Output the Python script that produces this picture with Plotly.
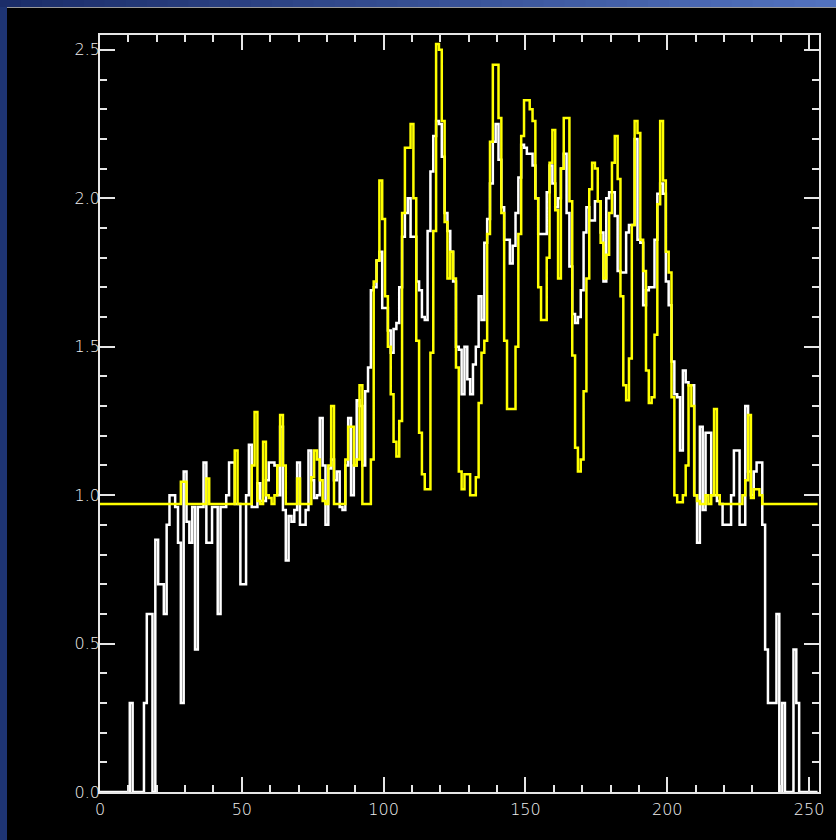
import plotly.graph_objects as go

# Bin index (0..253) for both profiles
bins = list(range(254))

# Measured profile (white histogram)
measured = [
    0, 0, 0, 0, 0, 0, 0, 0, 0, 0,                              # 0-9
    0, 0.30, 0, 0, 0, 0, 0.30, 0.60, 0.60, 0.0,                # 10-19
    0.85, 0.70, 0.70, 0.60, 0.90, 1.00, 1.00, 0.96, 0.84, 0.30,  # 20-29
    1.08, 0.91, 0.84, 0.96, 0.48, 0.96, 0.96, 1.11, 0.84, 0.84,  # 30-39
    0.96, 0.96, 0.60, 0.96, 0.96, 1.00, 1.11, 1.11, 0.97, 0.97,  # 40-49
    0.70, 0.70, 1.00, 1.17, 0.96, 0.96, 1.04, 0.98, 0.98, 1.05,  # 50-59
    1.11, 1.11, 1.10, 1.00, 1.23, 0.95, 0.78, 0.93, 0.91, 0.95,  # 60-69
    1.11, 0.90, 0.90, 0.95, 1.15, 1.05, 0.99, 1.00, 1.26, 1.10,  # 70-79
    0.90, 1.09, 1.12, 1.05, 1.08, 0.96, 0.95, 1.10, 1.26, 1.00,  # 80-89
    1.10, 1.32, 1.30, 1.10, 1.35, 1.43, 1.69, 1.70, 1.79, 1.82,  # 90-99
    1.63, 1.63, 1.555, 1.48, 1.56, 1.58, 1.70, 1.87, 1.95, 2.00,  # 100-109
    1.87, 1.87, 1.72, 1.69, 1.60, 1.59, 1.89, 2.09, 2.21, 2.26,  # 110-119
    2.25, 2.14, 1.95, 1.89, 1.82, 1.72, 1.50, 1.49, 1.34, 1.50,  # 120-129
    1.39, 1.34, 1.44, 1.50, 1.67, 1.59, 1.85, 1.93, 2.05, 2.19,  # 130-139
    2.25, 2.13, 1.97, 1.86, 1.86, 1.78, 1.84, 1.95, 2.07, 2.18,  # 140-149
    2.17, 2.15, 2.15, 2.11, 2.00, 1.88, 1.88, 1.88, 2.02, 2.11,  # 150-159
    2.05, 1.97, 2.00, 2.10, 2.15, 1.95, 1.77, 1.61, 1.58, 1.60,  # 160-169
    1.69, 1.885, 1.97, 1.925, 1.925, 1.99, 1.99, 1.885, 1.72, 2.00,  # 170-179
    2.02, 2.02, 1.94, 1.755, 1.75, 1.75, 1.885, 1.91, 1.91, 2.20,  # 180-189
    1.86, 1.85, 1.64, 1.69, 1.70, 1.70, 1.86, 2.015, 2.05, 2.015,  # 190-199
    1.72, 1.64, 1.45, 1.34, 1.33, 1.15, 1.42, 1.38, 1.37, 1.37,  # 200-209
    1.00, 0.84, 1.23, 0.95, 1.21, 1.21, 1.00, 1.00, 0.98, 0.97,  # 210-219
    0.90, 0.90, 0.90, 1.00, 1.15, 1.15, 0.90, 0.90, 1.30, 1.08,  # 220-229
    1.00, 1.08, 1.11, 1.11, 0.90, 0.48, 0.30, 0.30, 0.30, 0.60,  # 230-239
    0.00, 0.30, 0.00, 0.00, 0.00, 0.48, 0.30, 0, 0, 0,          # 240-249
    0, 0, 0, 0,                                                 # 250-253
]

# Model profile (yellow histogram)
model = [
    0.97, 0.97, 0.97, 0.97, 0.97, 0.97, 0.97, 0.97, 0.97, 0.97,  # 0-9
    0.97, 0.97, 0.97, 0.97, 0.97, 0.97, 0.97, 0.97, 0.97, 0.97,  # 10-19
    0.97, 0.97, 0.97, 0.97, 0.97, 0.97, 0.97, 0.97, 0.97, 1.045,  # 20-29
    1.045, 0.97, 0.97, 0.97, 0.97, 0.97, 0.97, 0.97, 1.056, 0.97,  # 30-39
    0.97, 0.97, 0.97, 0.97, 0.97, 0.97, 0.97, 0.97, 1.15, 0.97,  # 40-49
    0.97, 0.97, 0.97, 0.97, 1.10, 1.28, 0.98, 0.97, 1.18, 1.00,  # 50-59
    0.99, 0.97, 1.00, 1.10, 1.27, 1.10, 0.97, 0.97, 0.97, 0.97,  # 60-69
    1.056, 0.97, 0.97, 0.97, 0.97, 1.06, 1.15, 1.12, 1.05, 0.98,  # 70-79
    0.97, 1.10, 1.30, 0.97, 0.97, 0.97, 0.97, 1.12, 1.23, 1.23,  # 80-89
    1.10, 1.12, 1.37, 0.97, 0.97, 0.97, 1.12, 1.72, 1.79, 2.06,  # 90-99
    1.93, 1.67, 1.50, 1.34, 1.18, 1.13, 1.25, 1.95, 2.17, 2.17,  # 100-109
    2.25, 2.00, 1.52, 1.21, 1.07, 1.02, 1.02, 1.48, 1.89, 2.52,  # 110-119
    2.50, 2.26, 1.92, 1.73, 1.82, 1.73, 1.43, 1.08, 1.02, 1.07,  # 120-129
    1.07, 1.00, 1.00, 1.06, 1.31, 1.48, 1.52, 1.88, 2.19, 2.45,  # 130-139
    2.45, 2.27, 1.95, 1.52, 1.29, 1.29, 1.29, 1.50, 1.88, 2.21,  # 140-149
    2.33, 2.33, 2.30, 2.26, 2.00, 1.70, 1.59, 1.59, 1.80, 2.12,  # 150-159
    2.23, 1.96, 1.73, 2.10, 2.27, 2.27, 1.99, 1.47, 1.16, 1.08,  # 160-169
    1.12, 1.35, 1.73, 2.03, 2.12, 2.10, 1.99, 1.85, 1.73, 1.81,  # 170-179
    1.95, 2.12, 2.21, 2.065, 1.67, 1.37, 1.32, 1.46, 1.91, 2.26,  # 180-189
    2.22, 1.86, 1.755, 1.42, 1.31, 1.33, 1.54, 1.98, 2.26, 2.06,  # 190-199
    1.82, 1.75, 1.33, 1.00, 0.976, 0.976, 1.00, 1.10, 1.37, 1.30,  # 200-209
    1.00, 0.98, 0.97, 0.97, 1.00, 0.97, 1.00, 1.29, 1.00, 0.97,  # 210-219
    0.97, 0.97, 0.97, 0.97, 0.97, 0.97, 0.97, 1.00, 1.05, 1.27,  # 220-229
    0.99, 1.02, 1.02, 1.00, 0.97, 0.97, 0.97, 0.97, 0.97, 0.97,  # 230-239
    0.97, 0.97, 0.97, 0.97, 0.97, 0.97, 0.97, 0.97, 0.97, 0.97,  # 240-249
    0.97, 0.97, 0.97, 0.97,                                     # 250-253
]

x_ticks = [0, 50, 100, 150, 200, 250]
y_ticks = [0.0, 0.5, 1.0, 1.5, 2.0, 2.5]

W, H = 836, 840
L, R, T, B = 100, 819, 35, 792   # plot area edges in pixels


def px_x(p):
    return (p - L) / (R - L)


def px_y(p):
    return (B - p) / (B - T)


fig = go.Figure()

fig.add_trace(go.Scatter(
    x=bins, y=measured, mode="lines", line_shape="hvh",
    line=dict(color="#ffffff", width=2.5), showlegend=False, hoverinfo="skip",
))
fig.add_trace(go.Scatter(
    x=bins, y=model, mode="lines", line_shape="hvh",
    line=dict(color="#ffff00", width=2.5), showlegend=False, hoverinfo="skip",
))

# Window frame: blue gradient band along the top and a dark strip on the left
shapes = []
n_seg = 40
c0 = (27, 45, 105)
c1 = (82, 114, 190)
for i in range(n_seg):
    t = i / (n_seg - 1)
    col = "rgb(%d,%d,%d)" % tuple(round(a + (b - a) * t) for a, b in zip(c0, c1))
    x0 = W * i / n_seg
    x1 = W * (i + 1) / n_seg + 1
    shapes.append(dict(type="rect", xref="paper", yref="paper",
                       x0=px_x(x0), x1=px_x(x1), y0=px_y(7), y1=px_y(0),
                       fillcolor=col, line_width=0, layer="above"))
shapes.append(dict(type="rect", xref="paper", yref="paper",
                   x0=px_x(0), x1=px_x(7), y0=px_y(H), y1=px_y(7),
                   fillcolor="rgb(30,52,115)", line_width=0, layer="above"))
shapes.append(dict(type="line", xref="paper", yref="paper",
                   x0=px_x(7), x1=px_x(W), y0=px_y(7.5), y1=px_y(7.5),
                   line=dict(color="#9a9a9a", width=1), layer="above"))

axis_common = dict(
    showgrid=False, zeroline=False, showline=True, linecolor="#e6e6e6",
    linewidth=1.5, mirror="ticks", ticks="inside", ticklen=15, tickwidth=1.5,
    tickcolor="#e6e6e6",
    tickfont=dict(family="DejaVu Sans", size=16, color="#f0f0f0", weight=300),
)

fig.update_layout(
    width=W, height=H,
    margin=dict(l=L, r=W - R, t=T, b=H - B),
    paper_bgcolor="#000000", plot_bgcolor="#000000",
    shapes=shapes,
    xaxis=dict(range=[0, 253.5], tickvals=x_ticks,
               ticktext=[str(v) for v in x_ticks],
               ticklabelstandoff=2,
               minor=dict(ticks="inside", ticklen=7, dtick=10, tickwidth=1.5,
                          tickcolor="#e6e6e6"),
               **axis_common),
    yaxis=dict(range=[0, 2.55], tickvals=y_ticks,
               ticktext=["%.1f" % v for v in y_ticks],
               ticklabelstandoff=-5,
               minor=dict(ticks="inside", ticklen=7, dtick=0.1, tickwidth=1.5,
                          tickcolor="#e6e6e6"),
               **axis_common),
)

fig.write_html("out.html")
